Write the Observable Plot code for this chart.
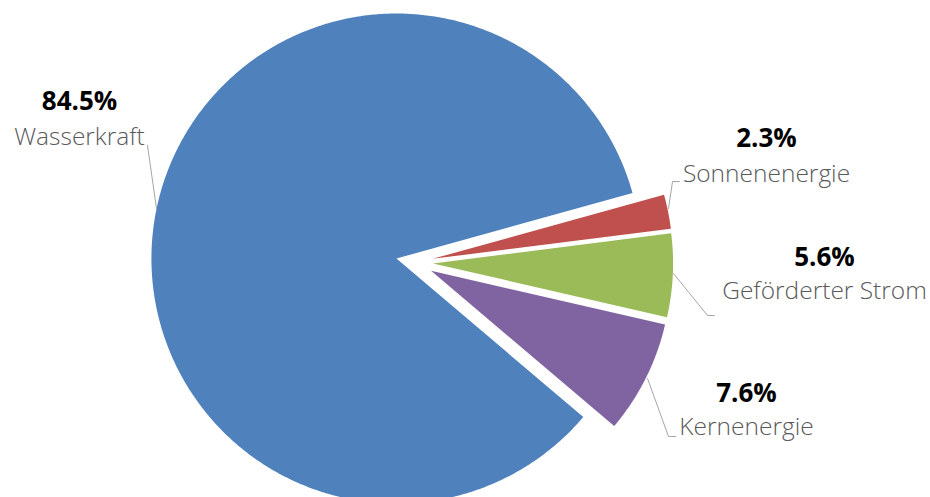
<!DOCTYPE html>
<html>
<head>
<meta charset="utf-8">
<script src="https://cdn.jsdelivr.net/npm/d3@7"></script>
<script src="https://cdn.jsdelivr.net/npm/@observablehq/plot@0.6"></script>
<style>
  html, body { margin: 0; padding: 0; background: #fff; }
  #chart svg { display: block; }
</style>
</head>
<body>
<div id="chart"></div>
<script>
// ---- data ----
const categories = ["Wasserkraft", "Sonnenenergie", "Geförderter Strom", "Kernenergie"];
const shares = [84.5, 2.3, 5.6, 7.6];
const percentLabels = ["84.5%", "2.3%", "5.6%", "7.6%"];

// ---- layout / style constants ----
const W = 930, H = 497;
const cx = 414, cy = 262;          // pie centre (px)
const R = 245;                      // radius of the big slice (px)
const radiusK = [1, 0.98, 0.98, 0.98]; // relative radius per slice
const explode = 18.5 / R;           // explosion distance (unit)
const startDeg = 130.3;             // first slice starts here (clockwise from 12 o'clock)
const palette = ["#4F81BD", "#C0504D", "#9BBB59", "#8064A2"];

// pixel -> unit helpers for manually placed labels
const ux = px => (px - cx) / R;
const uy = py => (cy - py) / R;

// ---- build slice polygons from the shares ----
const total = d3.sum(shares);
const slices = [];
let acc = startDeg;
shares.forEach((v, i) => {
  const a0 = acc, a1 = acc + v / total * 360;
  acc = a1;
  const mid = (a0 + a1) / 2 * Math.PI / 180;
  const ox = explode * Math.sin(mid), oy = explode * Math.cos(mid);
  const k = radiusK[i];
  const pts = [{cat: categories[i], x: ox, y: oy}];
  const steps = Math.max(8, Math.ceil((a1 - a0) / 0.5));
  for (let s = 0; s <= steps; s++) {
    const a = (a0 + (a1 - a0) * s / steps) * Math.PI / 180;
    pts.push({cat: categories[i], x: ox + k * Math.sin(a), y: oy + k * Math.cos(a)});
  }
  pts.push({cat: categories[i], x: ox, y: oy});
  slices.push(...pts);
});

// ---- label layout (px) ----
const labelPos = [
  {x: 79,  yPct: 109, yCat: 144},
  {x: 766, yPct: 146, yCat: 181},
  {x: 824, yPct: 265, yCat: 298},
  {x: 746, yPct: 401, yCat: 434}
];
const leaderPx = [
  [[147, 145], [156, 208]],
  [[679, 181], [672, 181], [668, 208]],
  [[673, 273], [707, 315], [714, 315]],
  [[647, 378], [668, 436], [675, 436]]
];
const leaders = [];
leaderPx.forEach((pl, i) => pl.forEach(([px, py]) => leaders.push({cat: categories[i], x: ux(px), y: uy(py)})));
const labels = categories.map((c, i) => ({
  cat: c, pct: percentLabels[i],
  x: ux(labelPos[i].x), yPct: uy(labelPos[i].yPct), yCat: uy(labelPos[i].yCat)
}));

const chart = Plot.plot({
  width: W,
  height: H,
  margin: 0,
  x: {domain: [ux(0), ux(W)], range: [0, W], axis: null},
  y: {domain: [uy(H), uy(0)], range: [H, 0], axis: null},
  color: {domain: categories, range: palette},
  style: {background: "#fff", overflow: "visible"},
  marks: [
    Plot.line(slices, {x: "x", y: "y", z: "cat", fill: "cat", stroke: null, curve: "linear"}),
    Plot.line(leaders, {x: "x", y: "y", z: "cat", stroke: "#A6A6A6", strokeWidth: 1}),
    Plot.text(labels, {x: "x", y: "yPct", text: "pct", textAnchor: "middle", lineAnchor: "bottom",
      fontFamily: "'Open Sans', sans-serif", fontWeight: 700, fontSize: 26, fill: "#000"}),
    Plot.text(labels, {x: "x", y: "yCat", text: "cat", textAnchor: "middle", lineAnchor: "bottom",
      fontFamily: "'Open Sans', sans-serif", fontWeight: 300, fontSize: 24.5, fill: "#595959"})
  ]
});
document.getElementById("chart").appendChild(chart);
</script>
</body>
</html>
